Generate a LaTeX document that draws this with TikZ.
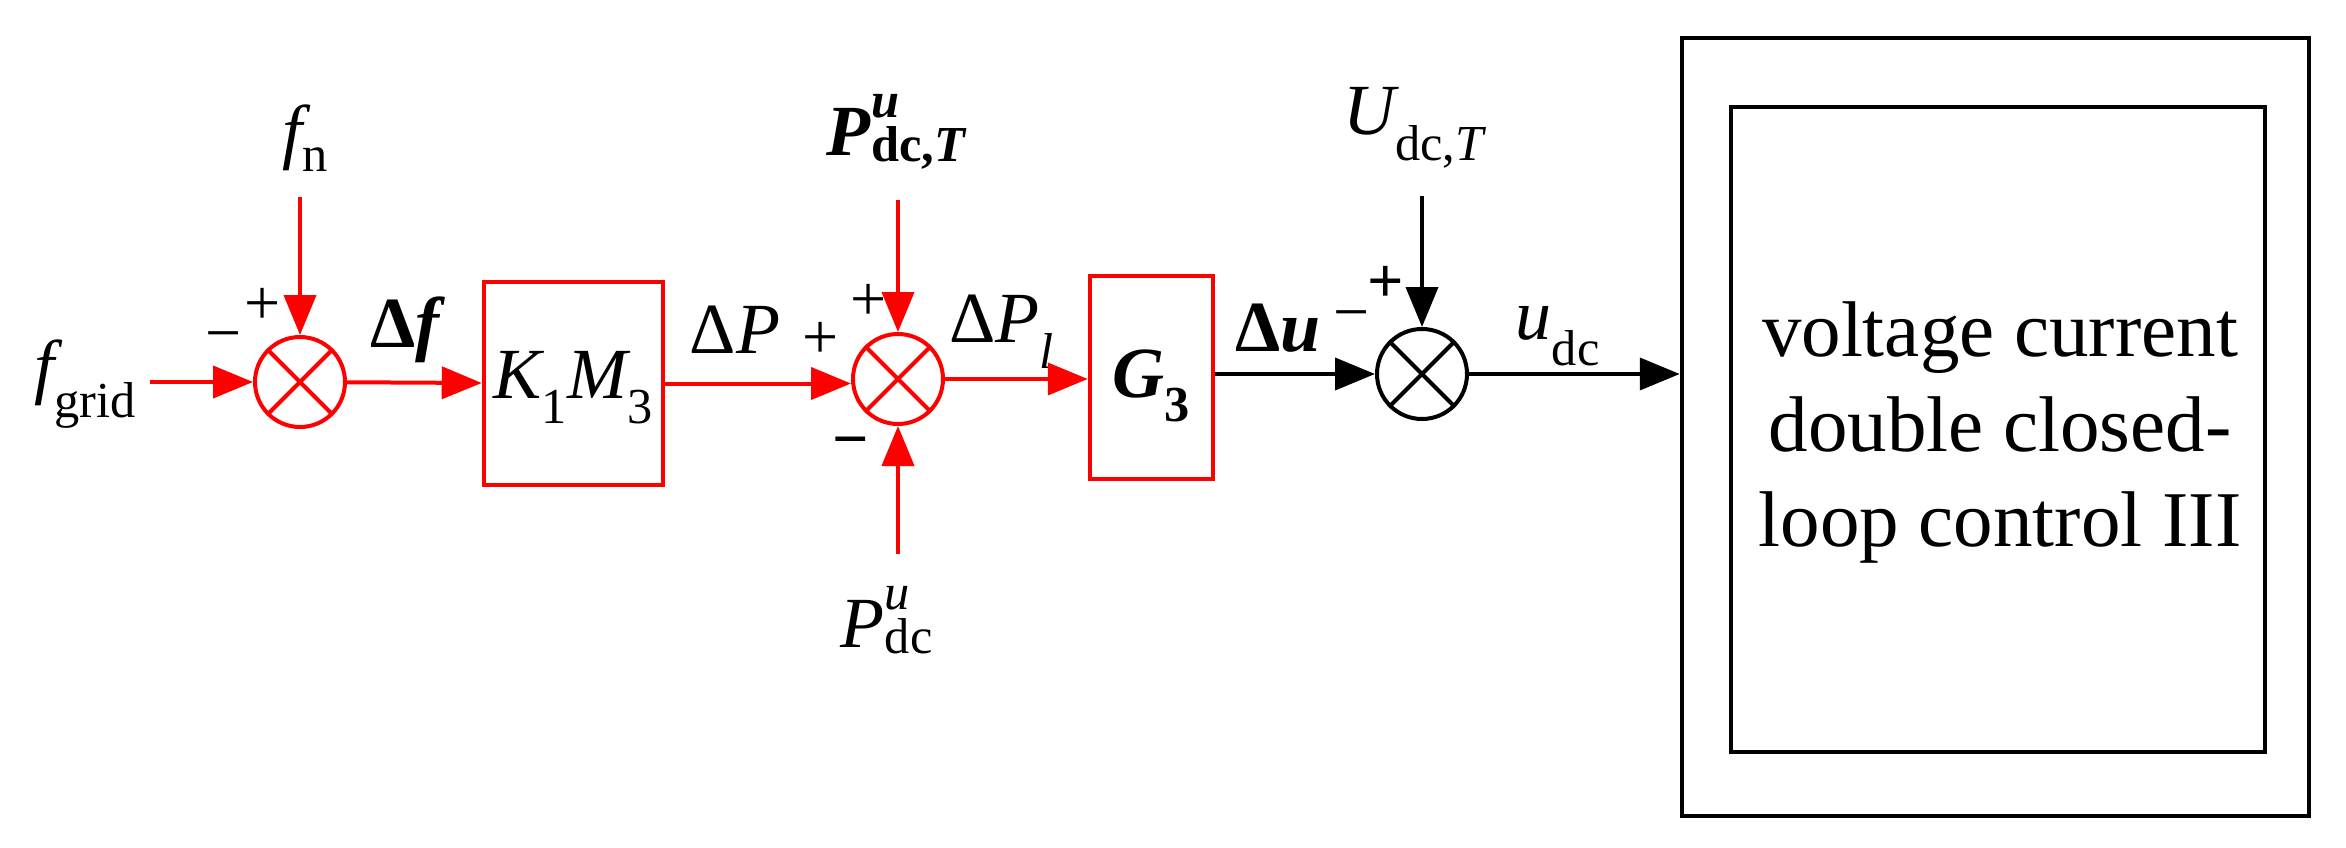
\documentclass[tikz,border=0pt]{standalone}
\usepackage{amsmath}
\usepackage{fontspec}
\setmainfont{Liberation Serif}
\usetikzlibrary{arrows.meta}
\begin{document}
\begin{tikzpicture}[x=1pt,y=-1pt,
  red line/.style={draw=red,line width=4pt},
  blk line/.style={draw=black,line width=4pt},
  arr/.style={-{Triangle[length=40pt,width=32pt]}},
  sum/.style={circle,minimum size=90pt,inner sep=0pt,line width=4pt},
  box/.style={rectangle,inner sep=0pt,line width=4.5pt},
  lbl/.style={font=\fontsize{72}{80}\selectfont,inner sep=0pt},
  sgn/.style={font=\fontsize{64}{64}\selectfont,inner sep=0pt}]
\useasboundingbox (0,0) rectangle (2346,848);
% nodes
\node[sum,draw=red] (s1) at (300,382) {};
\node[sum,draw=red] (s2) at (898,379) {};
\node[sum,draw=black] (s3) at (1422,374) {};
\foreach \s/\c in {s1/red,s2/red,s3/black}{
  \draw[\c,line width=4pt] (\s.north east)--(\s.south west) (\s.north west)--(\s.south east);}
\node[box,draw=red,minimum width=179pt,minimum height=203pt] (k) at (573.5,383.5) {};
\node[lbl] at (573.5,388) {$\boldsymbol{\textit{K}}_{\text{1}}\textit{M}_{\text{3}}$};
\node[box,draw=red,minimum width=123pt,minimum height=203pt] (g) at (1151.5,377.5) {};
\node[lbl] at (1151.5,386) {$\textbf{\textit{G}}_{\textbf{3}}$};
\node[box,draw=black,minimum width=627pt,minimum height=778pt] (outer) at (1995.5,427) {};
\node[box,draw=black,minimum width=534pt,minimum height=645pt] (inner) at (1998,429.5) {};
\node[align=center,font=\fontsize{79}{95}\selectfont,inner sep=0pt] (txt) at (2000,432) {voltage current\\double closed-\\loop control III};
% coordinates
\coordinate (fg) at (150,382);
\coordinate (fnt) at (300,197);
\coordinate (pt) at (898,200);
\coordinate (pb) at (898,554);
\coordinate (ut) at (1422,196);
% labels
\node[lbl] at (85,384) {$\textit{f}_{\text{grid}}$};
\node[lbl] at (305,138) {$\textit{f}_{\text{n}}$};
\node[lbl] at (408,330) {\textbf{Δ\textit{f}}};
\node[lbl] at (735,330) {Δ\textit{P}};
\node[lbl] at (1002,332) {Δ$\textit{P}_{\textit{l}}$};
\node[lbl] at (897,132) {$\textbf{\textit{P}}^{\textbf{\textit{u}}}_{\textbf{dc,\textit{T}}}$};
\node[lbl] at (887,620) {$\textit{P}^{\textit{u}}_{\text{dc}}$};
\node[lbl] at (1278,328) {\textbf{Δ\textit{u}}};
\node[lbl] at (1415,128) {$\textit{U}_{\text{dc,\textit{T}}}$};
\node[lbl] at (1558,336) {$\textit{u}_{\text{dc}}$};
\node[sgn] at (263,306) {+};
\node[sgn] at (224,343) {−};
\node[sgn] at (821,340) {+};
\node[sgn] at (869,302) {+};
\node[sgn] at (851,449) {\textbf{−}};
\node[sgn] at (1386,284) {\textbf{+}};
\node[sgn] at (1352,322) {−};
% connectors
\draw[red line,arr] (fg) -- (s1);
\draw[red line,arr] (fnt) -- (s1);
\draw[red line,arr] (s1) -- (k);
\draw[red line,arr] (k) -- (k.east -| s2.west);
\draw[red line,arr] (pt) -- (s2);
\draw[red line,arr] (pb) -- (s2);
\draw[red line,arr] (s2) -- (s2 -| g.west);
\draw[blk line,arr] (g.east |- s3) -- (s3);
\draw[blk line,arr] (ut) -- (s3);
\draw[blk line,arr] (s3) -- (s3 -| outer.west);
\end{tikzpicture}
\end{document}
